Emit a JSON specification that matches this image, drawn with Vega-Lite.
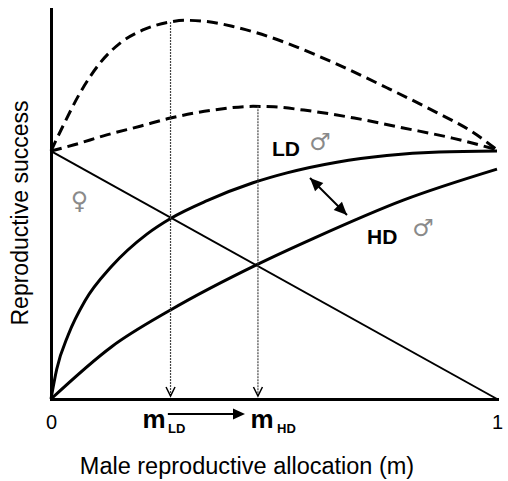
{
  "$schema": "https://vega.github.io/schema/vega-lite/v6.json",
  "width": 446,
  "height": 390,
  "autosize": {"type": "none"},
  "padding": {"left": 51, "top": 9, "right": 11, "bottom": 82},
  "background": "white",
  "config": {"view": {"stroke": null}, "font": "Liberation Sans"},
  "datasets": {
    "curves": [
      {"series": "F", "m": 0, "rs": 1},
      {"series": "F", "m": 1, "rs": 0},
      {"series": "LD", "m": 0, "rs": 0},
      {"series": "LD", "m": 0.0128, "rs": 0.12},
      {"series": "LD", "m": 0.039, "rs": 0.26},
      {"series": "LD", "m": 0.076, "rs": 0.395},
      {"series": "LD", "m": 0.136, "rs": 0.535},
      {"series": "LD", "m": 0.215, "rs": 0.665},
      {"series": "LD", "m": 0.269, "rs": 0.729},
      {"series": "LD", "m": 0.35, "rs": 0.8},
      {"series": "LD", "m": 0.453, "rs": 0.872},
      {"series": "LD", "m": 0.529, "rs": 0.912},
      {"series": "LD", "m": 0.641, "rs": 0.955},
      {"series": "LD", "m": 0.753, "rs": 0.982},
      {"series": "LD", "m": 0.87, "rs": 0.996},
      {"series": "LD", "m": 1, "rs": 1.0},
      {"series": "HD", "m": 0, "rs": 0},
      {"series": "HD", "m": 0.136, "rs": 0.211},
      {"series": "HD", "m": 0.268, "rs": 0.359},
      {"series": "HD", "m": 0.464, "rs": 0.544},
      {"series": "HD", "m": 0.59, "rs": 0.649},
      {"series": "HD", "m": 0.79, "rs": 0.802},
      {"series": "HD", "m": 1, "rs": 0.927},
      {"series": "LDT", "m": 0, "rs": 1},
      {"series": "LDT", "m": 0.028, "rs": 1.105},
      {"series": "LDT", "m": 0.065, "rs": 1.234},
      {"series": "LDT", "m": 0.11, "rs": 1.355},
      {"series": "LDT", "m": 0.155, "rs": 1.435},
      {"series": "LDT", "m": 0.206, "rs": 1.488},
      {"series": "LDT", "m": 0.267, "rs": 1.52},
      {"series": "LDT", "m": 0.3, "rs": 1.527},
      {"series": "LDT", "m": 0.35, "rs": 1.522},
      {"series": "LDT", "m": 0.408, "rs": 1.502},
      {"series": "LDT", "m": 0.455, "rs": 1.48},
      {"series": "LDT", "m": 0.529, "rs": 1.435},
      {"series": "LDT", "m": 0.641, "rs": 1.35},
      {"series": "LDT", "m": 0.753, "rs": 1.255},
      {"series": "LDT", "m": 0.865, "rs": 1.155},
      {"series": "LDT", "m": 0.942, "rs": 1.08},
      {"series": "LDT", "m": 1, "rs": 1.005},
      {"series": "HDT", "m": 0, "rs": 1},
      {"series": "HDT", "m": 0.05, "rs": 1.024},
      {"series": "HDT", "m": 0.125, "rs": 1.065},
      {"series": "HDT", "m": 0.2, "rs": 1.1},
      {"series": "HDT", "m": 0.268, "rs": 1.133},
      {"series": "HDT", "m": 0.364, "rs": 1.165},
      {"series": "HDT", "m": 0.453, "rs": 1.18},
      {"series": "HDT", "m": 0.5, "rs": 1.178},
      {"series": "HDT", "m": 0.567, "rs": 1.165},
      {"series": "HDT", "m": 0.68, "rs": 1.133},
      {"series": "HDT", "m": 0.79, "rs": 1.093},
      {"series": "HDT", "m": 0.9, "rs": 1.052},
      {"series": "HDT", "m": 1, "rs": 1.005}
    ],
    "drops": [
      {"name": "LD", "m": 0.268, "rs": 1.52, "rs2": 0.012},
      {"name": "HD", "m": 0.464, "rs": 1.18, "rs2": 0.012}
    ],
    "shafts": [
      {"name": "shift", "m": 0.262, "m2": 0.42, "rs": -0.0605, "rs2": -0.0605},
      {"name": "pair", "m": 0.5807, "m2": 0.6637, "rs": 0.891, "rs2": 0.742}
    ],
    "heads": [
      {"dir": "right", "m": 0.435, "rs": -0.0605},
      {"dir": "downright", "m": 0.6637, "rs": 0.742},
      {"dir": "upleft", "m": 0.5807, "rs": 0.891}
    ],
    "labels": [
      {"role": "big", "text": "LD", "m": 0.4955, "rs": 0.98},
      {"role": "big", "text": "HD", "m": 0.7085, "rs": 0.625},
      {"role": "sym", "text": "♂", "m": 0.6031, "rs": 1.034},
      {"role": "sym", "text": "♂", "m": 0.834, "rs": 0.6855},
      {"role": "sym", "text": "♀", "m": 0.0639, "rs": 0.795},
      {"role": "m", "text": "m", "m": 0.2309, "rs": -0.117},
      {"role": "m", "text": "m", "m": 0.4731, "rs": -0.117},
      {"role": "sub", "text": "LD", "m": 0.2623, "rs": -0.137},
      {"role": "sub", "text": "HD", "m": 0.5067, "rs": -0.137}
    ]
  },
  "encoding": {
    "x": {
      "field": "m", "type": "quantitative",
      "scale": {"domain": [0, 1], "nice": false, "zero": false},
      "axis": {
        "title": "Male reproductive allocation (m)",
        "values": [0, 1], "format": "d",
        "ticks": false, "tickSize": 0, "grid": false,
        "domainWidth": 3, "domainColor": "black", "domainCap": "square",
        "labelFontSize": 20, "labelColor": "black", "labelPadding": 13, "labelDx": 7,
        "labelFlush": false, "labelOverlap": false, "labelBound": false,
        "titleFontSize": 23.5, "titleFontWeight": "normal", "titleColor": "black",
        "titleX": 195.5, "titleY": 74, "titleAlign": "center", "titleBaseline": "alphabetic"
      }
    },
    "y": {
      "field": "rs", "type": "quantitative",
      "scale": {"domain": [0, 1.5726], "nice": false, "zero": false},
      "axis": {
        "title": "Reproductive success",
        "labels": false, "ticks": false, "tickSize": 0, "grid": false,
        "domainWidth": 3, "domainColor": "black", "domainCap": "square",
        "titleFontSize": 23, "titleFontWeight": "normal", "titleColor": "black",
        "titleX": -24, "titleY": 203.5, "titleAngle": -90, "titleAlign": "center", "titleBaseline": "alphabetic"
      }
    }
  },
  "layer": [
    {
      "data": {"name": "curves"},
      "transform": [{"filter": "datum.series === 'F'"}],
      "mark": {"type": "line", "stroke": "black", "strokeWidth": 2},
      "encoding": {"detail": {"field": "series"}}
    },
    {
      "data": {"name": "curves"},
      "transform": [{"filter": "datum.series === 'LD' || datum.series === 'HD'"}],
      "mark": {"type": "line", "stroke": "black", "strokeWidth": 3, "interpolate": "monotone"},
      "encoding": {"detail": {"field": "series"}}
    },
    {
      "data": {"name": "curves"},
      "transform": [{"filter": "datum.series === 'LDT' || datum.series === 'HDT'"}],
      "mark": {"type": "line", "stroke": "black", "strokeWidth": 3, "strokeDash": [11, 6], "interpolate": "monotone"},
      "encoding": {"detail": {"field": "series"}}
    },
    {
      "data": {"name": "drops"},
      "mark": {"type": "rule", "stroke": "#444", "strokeWidth": 1.2, "strokeDash": [2, 1]},
      "encoding": {"y2": {"field": "rs2"}}
    },
    {
      "data": {"name": "drops"},
      "mark": {"type": "point", "shape": "M-0.5,-1L0,0L0.5,-1", "filled": false, "stroke": "black", "strokeWidth": 1.5, "size": 324, "opacity": 1},
      "encoding": {"y": {"field": "rs2", "type": "quantitative"}}
    },
    {
      "data": {"name": "shafts"},
      "mark": {"type": "rule", "stroke": "black", "strokeWidth": 2},
      "encoding": {"x2": {"field": "m2"}, "y2": {"field": "rs2"}}
    },
    {
      "data": {"name": "heads"},
      "transform": [{"filter": "datum.dir === 'right'"}],
      "mark": {"type": "point", "shape": "M0,0L-1,-0.45L-1,0.45Z", "filled": true, "fill": "black", "strokeWidth": 0, "size": 576, "opacity": 1}
    },
    {
      "data": {"name": "heads"},
      "transform": [{"filter": "datum.dir === 'downright'"}],
      "mark": {"type": "point", "shape": "M0,0L-1,-0.45L-1,0.45Z", "filled": true, "fill": "black", "strokeWidth": 0, "size": 676, "angle": 45, "opacity": 1}
    },
    {
      "data": {"name": "heads"},
      "transform": [{"filter": "datum.dir === 'upleft'"}],
      "mark": {"type": "point", "shape": "M0,0L-1,-0.45L-1,0.45Z", "filled": true, "fill": "black", "strokeWidth": 0, "size": 676, "angle": 225, "opacity": 1}
    },
    {
      "data": {"name": "labels"},
      "transform": [{"filter": "datum.role === 'big'"}],
      "mark": {"type": "text", "align": "left", "baseline": "alphabetic", "fontSize": 21, "fontWeight": "bold", "color": "black"},
      "encoding": {"text": {"field": "text"}}
    },
    {
      "data": {"name": "labels"},
      "transform": [{"filter": "datum.role === 'sym'"}],
      "mark": {"type": "text", "align": "center", "baseline": "middle", "fontSize": 24, "font": "DejaVu Sans", "color": "#8a8a8a"},
      "encoding": {"text": {"field": "text"}}
    },
    {
      "data": {"name": "labels"},
      "transform": [{"filter": "datum.role === 'm'"}],
      "mark": {"type": "text", "align": "center", "baseline": "alphabetic", "fontSize": 26, "fontWeight": "bold", "color": "black"},
      "encoding": {"text": {"field": "text"}}
    },
    {
      "data": {"name": "labels"},
      "transform": [{"filter": "datum.role === 'sub'"}],
      "mark": {"type": "text", "align": "left", "baseline": "alphabetic", "fontSize": 13, "fontWeight": "bold", "color": "black"},
      "encoding": {"text": {"field": "text"}}
    }
  ]
}
